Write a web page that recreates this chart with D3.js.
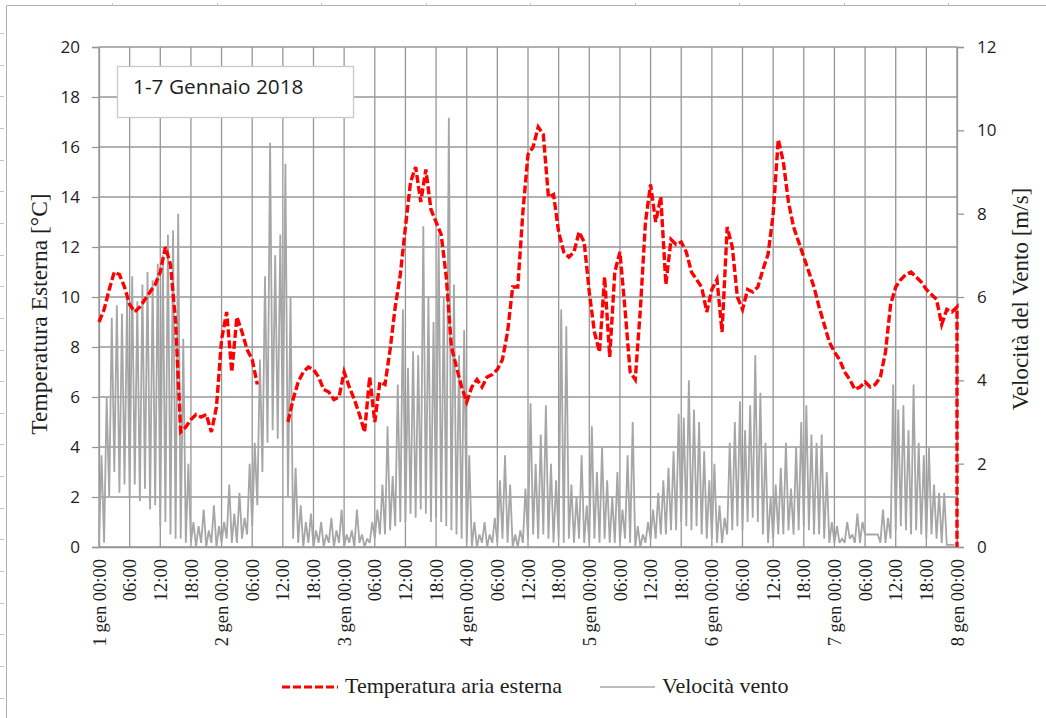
<!DOCTYPE html>
<html>
<head>
<meta charset="utf-8">
<script src="https://cdn.jsdelivr.net/npm/d3@7"></script>
<style>
  html, body { margin: 0; padding: 0; background: #fff; }
  svg { display: block; }
</style>
</head>
<body>
<svg id="chart" width="1046" height="718"></svg>
<script>
// Outdoor air temperature, hourly from 1 Jan 00:00 to 8 Jan 00:00 (°C); null = no reading
const temperature = [
  9.0, 9.5, 10.3, 11.0, 10.9, 10.4, 9.7, 9.4, 9.6, 9.9, 10.2, 10.5, 11.0, 12.0, 11.3, 9.0, 4.6, 4.8, 5.1, 5.3, 5.2, 5.3, 4.6, 5.6,
  8.3, 9.4, 7.0, 9.2, 8.6, 7.9, 7.5, 6.5, null, null, null, null, null, 5.0, 5.9, 6.6, 7.0, 7.2, 7.1, 6.8, 6.3, 6.2, 5.9, 6.0,
  7.0, 6.4, 5.9, 5.3, 4.6, 6.8, 5.0, 6.6, 6.5, 7.9, 9.6, 10.9, 12.8, 14.6, 15.2, 13.8, 15.1, 13.5, 13.0, 12.5, 10.8, 8.0, 7.2, 6.4,
  5.8, 6.4, 6.7, 6.4, 6.8, 6.9, 7.1, 7.5, 8.6, 10.4, 10.4, 13.4, 15.7, 16.0, 16.8, 16.5, 14.0, 14.1, 12.6, 11.8, 11.6, 11.8, 12.6, 12.2,
  10.2, 8.6, 7.8, 10.8, 7.6, 11.0, 11.8, 9.5, 7.0, 6.7, 9.5, 13.0, 14.5, 13.0, 14.0, 10.5, 12.3, 12.1, 12.2, 11.8, 11.0, 10.7, 10.4, 9.4,
  10.3, 10.7, 8.6, 12.8, 12.0, 10.0, 9.5, 10.3, 10.2, 10.4, 11.1, 11.7, 13.3, 16.3, 15.4, 13.8, 12.8, 12.2, 11.6, 11.0, 10.4, 9.6, 8.9, 8.2,
  7.8, 7.5, 7.0, 6.7, 6.3, 6.4, 6.6, 6.4, 6.5, 6.8, 7.8, 9.7, 10.4, 10.7, 10.9, 11.0, 10.8, 10.6, 10.3, 10.1, 9.9, 8.9, 9.5, 9.4,
  9.6
];
// Reading logged when the series closes at 8 Jan 00:00 (°C)
const temperatureClose = 0;

// Wind speed, highest and lowest sample within each hour (m/s)
const windPeak = [
  2.2, 3.6, 5.5, 5.8, 5.6, 6.0, 6.5, 5.9, 6.3, 6.6, 6.4, 6.8, 7.0, 7.5, 7.6, 8.0, 5.0, 2.0, 0.6, 0.5, 0.9, 0.4, 1.0, 0.5,
  0.6, 1.5, 0.8, 1.3, 0.7, 2.0, 2.5, 4.5, 6.5, 9.7, 7.0, 7.5, 9.2, 6.0, 1.9, 1.0, 0.6, 0.8, 0.4, 0.6, 0.3, 0.7, 0.4, 0.9,
  0.3, 0.4, 0.9, 0.3, 0.2, 0.6, 0.9, 1.5, 2.9, 1.7, 3.9, 5.7, 4.3, 4.7, 4.6, 7.7, 6.0, 5.4, 7.5, 6.0, 10.3, 6.3, 4.6, 5.2,
  2.2, 0.6, 0.3, 0.6, 0.3, 0.7, 1.6, 2.2, 1.5, 0.3, 0.4, 1.4, 3.45, 2.0, 2.7, 3.4, 2.0, 1.6, 5.7, 5.3, 1.5, 1.2, 2.2, 1.0,
  2.9, 1.8, 2.4, 1.6, 1.2, 1.8, 0.9, 2.2, 3.0, 0.5, 0.3, 0.6, 0.9, 1.3, 1.6, 1.9, 2.3, 3.2, 3.1, 4.0, 3.3, 3.0, 2.3, 1.6,
  2.0, 1.0, 0.7, 2.5, 3.0, 3.5, 2.8, 3.4, 4.6, 3.7, 2.5, 1.2, 1.5, 1.9, 2.5, 1.4, 2.4, 3.0, 3.4, 2.7, 2.5, 2.7, 1.8, 0.6,
  0.5, 0.2, 0.6, 0.3, 0.8, 0.6, 0.3, 0.3, 0.3, 0.9, 0.7, 3.9, 3.3, 3.4, 2.8, 3.9, 2.5, 2.2, 2.4, 1.5, 1.3, 1.3, 0.05, 0.05
];
const windBase = [
  0.1, 0.1, 1.2, 1.8, 1.3, 1.5, 1.2, 1.5, 1.1, 1.4, 0.9, 1.0, 0.5, 0.6, 0.3, 0.2, 0.2, 0.1, 0.1, 0.0, 0.1, 0.0, 0.1, 0.0,
  0.1, 0.2, 0.1, 0.1, 0.2, 0.3, 0.5, 1.0, 1.8, 2.5, 2.8, 2.6, 2.4, 1.2, 0.2, 0.1, 0.0, 0.1, 0.0, 0.1, 0.0, 0.1, 0.0, 0.1,
  0.0, 0.1, 0.0, 0.1, 0.0, 0.1, 0.2, 0.3, 0.3, 0.4, 0.5, 0.6, 0.6, 0.8, 0.7, 0.9, 0.8, 0.6, 0.7, 0.6, 0.5, 0.4, 0.3, 0.2,
  0.1, 0.0, 0.0, 0.1, 0.0, 0.1, 0.1, 0.2, 0.1, 0.0, 0.0, 0.1, 0.2, 0.3, 0.2, 0.3, 0.2, 0.1, 0.2, 0.1, 0.2, 0.1, 0.2, 0.1,
  0.1, 0.2, 0.1, 0.2, 0.1, 0.1, 0.1, 0.2, 0.1, 0.0, 0.0, 0.1, 0.2, 0.2, 0.3, 0.3, 0.4, 0.4, 0.6, 0.5, 0.4, 0.5, 0.3, 0.2,
  0.2, 0.1, 0.1, 0.3, 0.4, 0.5, 0.4, 0.6, 0.7, 0.6, 0.3, 0.1, 0.2, 0.3, 0.3, 0.4, 0.3, 0.4, 0.5, 0.4, 0.3, 0.3, 0.2, 0.1,
  0.1, 0.1, 0.1, 0.2, 0.1, 0.1, 0.3, 0.3, 0.3, 0.1, 0.1, 0.2, 0.4, 0.5, 0.4, 0.3, 0.4, 0.3, 0.2, 0.3, 0.2, 0.1, 0.05, 0.05
];

const tempTicks = [0, 2, 4, 6, 8, 10, 12, 14, 16, 18, 20];
const windTicks = [0, 2, 4, 6, 8, 10, 12];
const chartTitle = "1-7 Gennaio 2018";
const tempTitle = "Temperatura Esterna [°C]";
const windTitle = "Velocità del Vento [m/s]";
const tempLegend = "Temperatura aria esterna";
const windLegend = "Velocità vento";

const startMs = Date.UTC(2018, 0, 1);
const HOUR = 3600e3;
const atHour = h => new Date(startMs + h * HOUR);

// Italian date names for the time axis
const it = d3.timeFormatLocale({
  dateTime: "%A %e %B %Y, %X", date: "%d/%m/%Y", time: "%H:%M:%S", periods: ["AM", "PM"],
  days: ["domenica", "lunedì", "martedì", "mercoledì", "giovedì", "venerdì", "sabato"],
  shortDays: ["dom", "lun", "mar", "mer", "gio", "ven", "sab"],
  months: ["gennaio", "febbraio", "marzo", "aprile", "maggio", "giugno", "luglio", "agosto", "settembre", "ottobre", "novembre", "dicembre"],
  shortMonths: ["gen", "feb", "mar", "apr", "mag", "giu", "lug", "ago", "set", "ott", "nov", "dic"]
});
const fmtDay = it.utcFormat("%-d %b %H:%M");
const fmtHour = it.utcFormat("%H:%M");
const fmtTick = d => (d.getUTCHours() === 0 ? fmtDay(d) : fmtHour(d));

const svg = d3.select("#chart");
const plot = { left: 99, right: 957, top: 47, bottom: 547 };

const x = d3.scaleUtc().domain([atHour(0), atHour(168)]).range([plot.left, plot.right]);
const yT = d3.scaleLinear().domain([0, 20]).range([plot.bottom, plot.top]);
const yW = d3.scaleLinear().domain([0, 12]).range([plot.bottom, plot.top]);

const SERIF = "'Liberation Serif', 'Times New Roman', serif";
const SANS = "'Open Sans', 'Liberation Sans', sans-serif";
const GRID = "#979797";

// outer frame with small ruler marks
const frame = svg.append("g");
frame.append("path").attr("d", "M6.5,718V5.5H1046").attr("fill", "none").attr("stroke", "#b0b0b0");
d3.range(33, 718, 31.65).forEach(y => frame.append("line")
  .attr("x1", 0).attr("x2", 4).attr("y1", Math.round(y) + 0.5).attr("y2", Math.round(y) + 0.5)
  .attr("stroke", "#c4c4c4"));
d3.range(112, 1046, 104.5).forEach(xx => frame.append("line")
  .attr("x1", Math.round(xx) + 0.5).attr("x2", Math.round(xx) + 0.5).attr("y1", 3).attr("y2", 6)
  .attr("stroke", "#c4c4c4"));

// grid
const grid = svg.append("g").attr("stroke", GRID).attr("stroke-width", 1.3);
grid.selectAll("line.h").data(tempTicks).join("line").attr("class", "h")
  .attr("x1", plot.left).attr("x2", plot.right).attr("y1", d => yT(d)).attr("y2", d => yT(d));
grid.selectAll("line.v").data(x.ticks(d3.utcHour.every(6))).join("line").attr("class", "v")
  .attr("x1", d => x(d)).attr("x2", d => x(d)).attr("y1", plot.top).attr("y2", plot.bottom);

// axes
const axisL = svg.append("g").attr("transform", `translate(${plot.left},0)`)
  .call(d3.axisLeft(yT).tickValues(tempTicks).tickSize(7).tickPadding(12));
const axisR = svg.append("g").attr("transform", `translate(${plot.right},0)`)
  .call(d3.axisRight(yW).tickValues(windTicks).tickSize(7).tickPadding(13));
[axisL, axisR].forEach(g => {
  g.select(".domain").attr("stroke", GRID).attr("stroke-width", 1.3);
  g.selectAll(".tick line").attr("stroke", GRID).attr("stroke-width", 1.3);
  g.selectAll(".tick text").attr("font-family", SANS).attr("font-size", 17).attr("fill", "#1e1e1e");
});
const axisB = svg.append("g").attr("transform", `translate(0,${plot.bottom})`)
  .call(d3.axisBottom(x).ticks(d3.utcHour.every(6)).tickFormat(fmtTick).tickSize(0));
axisB.select(".domain").attr("stroke", GRID).attr("stroke-width", 1.3);
axisB.selectAll(".tick text")
  .attr("transform", "rotate(-90)").attr("x", -12).attr("y", 0).attr("dy", "0.33em")
  .attr("text-anchor", "end").attr("font-family", SERIF).attr("font-size", 18.5).attr("fill", "#1e1e1e");

// wind speed: hourly low/high samples traced as a continuous trace
const windPoints = windPeak.flatMap((p, h) => [
  { t: atHour(h), v: windBase[h] },
  { t: atHour(h + 0.5), v: p }
]);
svg.append("path").datum(windPoints)
  .attr("fill", "none").attr("stroke", "#a6a6a6").attr("stroke-width", 1.8)
  .attr("stroke-linejoin", "miter").attr("stroke-miterlimit", 2)
  .attr("d", d3.line().x(d => x(d.t)).y(d => yW(d.v)));

// temperature, dashed red on top
const tempPoints = temperature.map((v, h) => ({ t: atHour(h), v }));
tempPoints.push({ t: atHour(168), v: temperatureClose });
svg.append("path").datum(tempPoints)
  .attr("fill", "none").attr("stroke", "#ff0000").attr("stroke-width", 3.4)
  .attr("stroke-dasharray", "8,3")
  .attr("d", d3.line().defined(d => d.v !== null).x(d => x(d.t)).y(d => yT(d.v)));

// title box
svg.append("rect").attr("x", 117.5).attr("y", 66.5).attr("width", 236).attr("height", 51)
  .attr("fill", "#fff").attr("stroke", "#c9c9c9").attr("stroke-width", 1.3);
svg.append("text").attr("x", 133).attr("y", 94).attr("font-family", SANS).attr("font-size", 20.8)
  .attr("fill", "#1e1e1e").text(chartTitle);

// axis titles
svg.append("text").attr("transform", "translate(47,314) rotate(-90)").attr("text-anchor", "middle")
  .attr("font-family", SERIF).attr("font-size", 23.5).attr("fill", "#1e1e1e").text(tempTitle);
svg.append("text").attr("transform", "translate(1028,299) rotate(-90)").attr("text-anchor", "middle")
  .attr("font-family", SERIF).attr("font-size", 23).attr("fill", "#1e1e1e").text(windTitle);

// legend
const legend = svg.append("g");
legend.append("line").attr("x1", 282).attr("x2", 338).attr("y1", 687).attr("y2", 687)
  .attr("stroke", "#ff0000").attr("stroke-width", 3).attr("stroke-dasharray", "8,3");
legend.append("text").attr("x", 345).attr("y", 693).attr("font-family", SERIF).attr("font-size", 22)
  .attr("fill", "#1e1e1e").text(tempLegend);
legend.append("line").attr("x1", 600).attr("x2", 655).attr("y1", 687).attr("y2", 687)
  .attr("stroke", "#a6a6a6").attr("stroke-width", 1.5);
legend.append("text").attr("x", 662).attr("y", 693).attr("font-family", SERIF).attr("font-size", 22)
  .attr("fill", "#1e1e1e").text(windLegend);
</script>
</body>
</html>
